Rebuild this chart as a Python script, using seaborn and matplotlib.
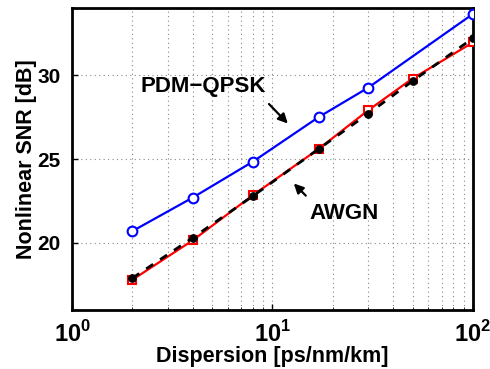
import numpy as np
import pandas as pd
import matplotlib.pyplot as plt
import seaborn as sns

# Data
disp_qpsk = [2, 4, 8, 17, 30, 100]
snr_qpsk = [20.7, 22.7, 24.85, 27.5, 29.25, 33.65]

disp_awgn = [2, 4, 8, 17, 30, 50, 100]
snr_awgn_red = [17.8, 20.15, 22.85, 25.6, 27.9, 29.8, 31.95]
snr_awgn_black = [17.9, 20.3, 22.8, 25.6, 27.7, 29.65, 32.2]

x_ticks = [1, 10, 100]
y_ticks = [20, 25, 30]

sns.set_style("ticks", rc={"axes.edgecolor": "black", "text.color": "black",
                           "axes.labelcolor": "black", "xtick.color": "black",
                           "ytick.color": "black"})
plt.rcParams["font.family"] = ["Liberation Sans", "DejaVu Sans"]
plt.rcParams["font.weight"] = "bold"
plt.rcParams["mathtext.fontset"] = "custom"
plt.rcParams["mathtext.rm"] = "Liberation Sans"
plt.rcParams["mathtext.bf"] = "Liberation Sans:bold"

df_q = pd.DataFrame({"disp": disp_qpsk, "snr": snr_qpsk})
df_r = pd.DataFrame({"disp": disp_awgn, "snr": snr_awgn_red})
df_b = pd.DataFrame({"disp": disp_awgn, "snr": snr_awgn_black})

fig, ax = plt.subplots(figsize=(4.9, 3.69), dpi=100)
fig.subplots_adjust(left=0.147, right=0.965, top=0.978, bottom=0.16)

sns.lineplot(data=df_q, x="disp", y="snr", ax=ax, color="#0000ff", lw=1.6,
             marker="o", markersize=7, markerfacecolor="white",
             markeredgecolor="#0000ff", markeredgewidth=1.5, zorder=3)
sns.lineplot(data=df_r, x="disp", y="snr", ax=ax, color="#ff0000", lw=1.6,
             marker="s", markersize=6, markerfacecolor="white",
             markeredgecolor="#ff0000", markeredgewidth=1.5, zorder=3)
sns.lineplot(data=df_b, x="disp", y="snr", ax=ax, color="black", lw=2,
             linestyle=(0, (3, 3)), marker="o", markersize=5.5,
             markerfacecolor="black", markeredgecolor="black", zorder=4)

ax.set_xscale("log")
ax.set_xlim(1, 100)
ax.set_ylim(16, 34)
ax.set_xticks(x_ticks)
ax.set_xticklabels([r"$\mathbf{10}^{\mathrm{%d}}$" % int(np.log10(v)) for v in x_ticks])
ax.set_yticks(y_ticks)
ax.tick_params(axis="both", which="major", direction="in", labelsize=15, length=4, width=1, pad=8)
ax.tick_params(axis="x", which="major", labelsize=17, pad=8)
ax.tick_params(axis="both", which="minor", direction="in", length=2)
for lbl in ax.get_yticklabels():
    lbl.set_fontweight("bold")

ax.grid(True, which="both", axis="x", linestyle=(0, (1, 3)), color="#888888", lw=0.8)
ax.grid(True, which="major", axis="y", linestyle=(0, (1, 3)), color="#888888", lw=0.8)

for s in ax.spines.values():
    s.set_linewidth(2)

ax.set_xlabel("Dispersion [ps/nm/km]", fontsize=15.5, fontweight="bold")
ax.set_ylabel("Nonlinear SNR [dB]", fontsize=15.5, fontweight="bold")
ax.xaxis.set_label_coords(0.5, -0.12)
ax.yaxis.set_label_coords(-0.087, 0.5)

ax.text(4.5, 29.3, "PDM\u2212QPSK", fontsize=16, fontweight="bold", ha="center", va="center")
ax.annotate("", xy=(12.2, 27.0), xytext=(9.4, 28.4),
            arrowprops=dict(arrowstyle="-|>", color="black", lw=1.6, mutation_scale=14))
ax.text(22.7, 21.75, "AWGN", fontsize=16, fontweight="bold", ha="center", va="center")
ax.annotate("", xy=(12.5, 23.66), xytext=(15.0, 22.7),
            arrowprops=dict(arrowstyle="-|>", color="black", lw=1.6, mutation_scale=14))

plt.savefig("out.png", dpi=100)
